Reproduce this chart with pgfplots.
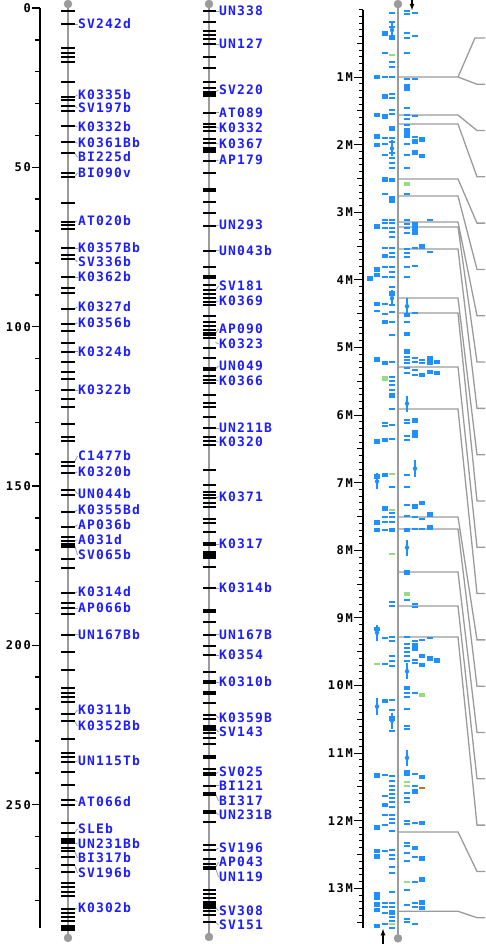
\documentclass[border=0pt]{standalone}
\usepackage{pgfplots}
\pgfplotsset{compat=1.18}
\usepackage{pgfplotstable}
\usepackage{fontspec}
\newfontfamily\monofont{DejaVu Sans Mono}[LetterSpace=9]
\newfontfamily\scalemono{DejaVu Sans Mono}[LetterSpace=14]
\newcommand\labfont{\monofont\bfseries\fontsize{13}{13}\selectfont}
\newcommand\scalefont{\scalemono\bfseries\fontsize{12}{12}\selectfont}
\definecolor{labblue}{RGB}{30,30,250}
\definecolor{featblue}{RGB}{30,144,255}
\definecolor{featgreen}{RGB}{150,220,130}
\definecolor{featorange}{RGB}{205,110,40}
\definecolor{chrgray}{RGB}{155,155,155}

% ---------- map 1 (cM) ----------
\pgfplotstableread{
y
0.94
5.0
12.6
14.1
15.4
16.9
23.2
27.9
28.9
30.7
32.3
37.0
42.0
45.5
51.8
53.0
61.2
67.1
68.1
69.3
75.3
77.5
78.8
84.4
87.9
89.4
94.4
99.2
101.3
105.1
107.9
111.1
114.2
116.4
119.9
122.7
125.2
130.5
134.6
135.9
142.5
143.7
145.9
151.2
152.8
158.1
162.8
166.0
167.2
169.1
172.9
175.7
183.6
186.7
188.3
190.1
196.7
202.1
207.7
213.4
214.9
216.2
217.7
221.5
223.8
229.4
233.8
235.0
236.6
239.7
243.8
248.5
250.1
255.7
258.9
262.0
263.6
264.5
266.4
268.9
271.1
274.5
275.8
277.4
278.6
282.7
284.0
285.2
286.5
288.1
}\mapAthin
\pgfplotstableread{
y
168.5
261.1
289.0
}\mapAthick
\pgfplotstableread{
my ly name
5.0 5.0 SV242d
27.9 27.3 K0335b
30.7 31.4 SV197b
37.0 37.3 K0332b
42.0 42.4 K0361Bb
45.5 46.8 BI225d
53.0 51.8 BI090v
67.1 66.8 AT020b
75.3 75.3 K0357Bb
78.8 79.7 SV336b
84.4 84.4 K0362b
94.4 93.8 K0327d
99.2 98.8 K0356b
107.9 107.9 K0324b
119.9 119.9 K0322b
142.5 140.6 C1477b
145.9 145.6 K0320b
151.2 152.5 UN044b
158.1 157.5 K0355Bd
162.8 162.2 AP036b
167.2 166.9 A031d
168.5 171.6 SV065b
183.6 183.2 K0314d
188.3 188.3 AP066b
196.7 196.7 UN167Bb
221.5 220.3 K0311b
223.8 225.3 K0352Bb
236.6 236.3 UN115Tb
248.5 249.1 AT066d
258.9 257.6 SLEb
262.0 262.3 UN231Bb
264.5 266.7 BI317b
268.9 271.4 SV196b
282.7 282.4 K0302b
}\mapAlab

% ---------- map 2 (cM) ----------
\pgfplotstableread{
y
0.94
4.4
7.2
8.5
9.7
11.3
15.4
18.8
23.2
25.1
26.4
32.9
36.4
37.3
38.6
41.1
42.4
48.0
51.8
60.9
64.3
68.4
76.2
81.3
86.9
88.5
89.7
91.0
92.3
93.2
96.6
98.5
99.8
101.0
103.5
106.7
109.8
115.5
116.7
117.7
121.4
123.9
125.2
128.3
131.8
134.6
135.9
137.1
145.0
149.7
151.9
152.8
153.7
155.3
156.6
160.3
161.6
164.4
175.4
182.0
192.7
196.7
200.2
203.0
208.3
218.1
221.8
223.1
225.3
227.5
229.1
231.0
238.8
244.1
255.4
262.6
264.2
267.0
268.6
276.7
278.0
279.2
283.3
284.6
286.8
}\mapBthin
\pgfplotstableread{
y
27.3
57.1
84.4
102.3
113.3
168.2
171.0
172.3
189.2
211.5
214.9
226.2
235.0
240.4
246.6
252.3
269.8
280.8
282.1
}\mapBthick
\pgfplotstableread{
my ly name
0.94 0.94 UN338
11.3 11.3 UN127
26.4 25.7 SV220
32.9 32.9 AT089
37.3 37.7 K0332
42.4 42.7 K0367
48.0 47.7 AP179
68.4 68.1 UN293
76.2 76.2 UN043b
88.5 87.2 SV181
92.3 91.9 K0369
102.3 100.7 AP090
104.9 105.4 K0323
113.3 112.3 UN049
116.7 117.0 K0366
131.8 131.8 UN211B
135.9 136.2 K0320
153.7 153.4 K0371
168.2 168.2 K0317
182.0 182.0 K0314b
196.7 196.7 UN167B
203.0 203.0 K0354
211.5 211.5 K0310b
221.8 222.8 K0359B
226.2 227.2 SV143
240.4 239.7 SV025
244.1 244.1 BI121
246.6 248.8 BI317
252.3 253.2 UN231B
264.2 263.6 SV196
269.8 268.0 AP043
269.8 272.7 UN119
282.1 283.3 SV308
286.8 287.7 SV151
}\mapBlab

% ---------- physical map (Mb) ----------
\pgfplotstableread{
x y
392 0.047
407 0.017
407 0.067
415 0.047
392 0.18
392 0.254
407 0.353
407 0.417
415 0.392
385 0.648
407 0.639
392 0.772
392 0.846
385 1.003
392 0.994
407 1.033
415 1.033
407 1.117
392 1.25
392 1.314
392 1.487
392 1.546
407 1.462
407 1.56
415 1.575
407 1.62
407 1.709
385 1.906
385 1.99
392 1.906
392 1.955
407 1.891
415 1.881
407 1.99
385 2.152
392 2.128
392 2.2
392 2.266
407 2.152
392 2.35
407 2.35
385 2.734
392 2.769
407 2.734
385 3.114
385 3.163
385 3.237
392 3.114
392 3.163
392 3.227
392 3.287
392 3.36
407 3.114
407 3.173
407 3.237
407 3.311
430 3.114
385 3.533
392 3.533
392 3.597
392 3.656
407 3.548
407 3.607
407 3.666
415 3.523
430 3.582
385 3.804
385 3.952
392 3.804
392 3.878
392 3.962
407 3.804
415 3.794
407 3.962
392 4.1
385 4.36
392 4.37
377 4.46
385 4.5
392 4.47
415 4.49
392 4.62
407 4.62
392 4.82
407 5.14
415 5.15
422 5.18
422 5.23
415 5.21
407 5.18
407 5.23
385 5.21
385 5.24
392 5.22
407 5.31
415 5.34
407 5.37
415 5.41
392 5.43
392 5.49
392 5.56
392 5.63
392 5.91
407 6.07
407 6.12
385 6.11
385 6.16
392 6.14
407 6.31
407 6.37
392 6.36
407 6.89
392 7.06
407 7.06
392 7.45
385 7.50
392 7.51
407 7.33
407 7.49
415 7.51
422 7.53
385 7.58
392 7.58
385 7.70
392 7.68
392 7.71
407 7.68
415 7.68
422 7.68
407 7.71
407 8.74
392 8.76
392 8.82
415 8.79
415 8.84
385 9.30
392 9.28
392 9.34
407 9.28
415 9.34
422 9.32
430 9.30
407 9.38
407 9.44
407 9.50
392 9.57
407 9.57
415 9.62
415 9.67
407 9.64
385 9.68
392 9.64
392 9.71
407 10.11
407 10.17
415 10.11
407 10.35
392 10.21
392 10.36
392 10.67
407 10.60
407 10.65
407 11.33
415 11.31
385 11.33
392 11.34
392 11.41
392 11.48
392 11.54
415 11.48
407 11.59
385 11.64
392 11.61
392 11.67
392 11.73
392 11.79
407 11.67
407 11.72
392 11.91
385 11.91
392 11.98
392 12.04
385 12.06
407 12.00
407 12.05
415 12.04
392 12.15
407 12.33
407 12.38
385 12.45
392 12.44
392 12.50
392 12.56
407 12.48
407 12.59
415 12.54
392 12.68
392 12.77
415 12.90
407 13.03
385 13.21
385 13.28
392 13.06
392 13.22
392 13.28
392 13.42
385 13.37
407 13.25
415 13.22
415 13.27
392 13.48
385 13.53
407 13.45
407 13.50
415 13.53
392 13.58
}\featdash
\pgfplotstableread{
x y
385 0.353
392 0.412
407 1.166
377 0.994
385 1.289
377 1.56
385 1.585
392 1.758
407 1.782
407 1.832
377 1.881
377 2.004
415 1.955
422 1.92
415 2.118
422 2.167
385 2.512
392 2.522
392 2.828
377 3.212
415 3.173
415 3.237
415 3.301
385 3.646
422 3.508
377 3.844
377 3.928
370 3.977
392 4.2
377 4.36
407 4.52
385 4.62
407 4.80
407 5.06
430 5.16
437 5.21
430 5.23
377 5.18
422 5.41
430 5.36
437 5.38
392 5.71
415 6.08
415 6.26
415 6.31
377 6.39
385 6.37
377 6.91
385 6.89
385 7.38
415 7.35
422 7.30
430 7.47
377 7.59
377 7.70
430 7.66
407 8.33
377 9.16
415 9.40
415 9.46
422 9.56
430 9.60
437 9.63
422 9.70
407 10.04
385 10.23
392 10.49
407 11.28
422 11.35
377 11.33
415 11.57
385 11.77
377 12.10
422 12.03
415 12.40
377 12.45
377 12.53
422 12.56
422 12.87
377 13.08
377 13.14
377 13.24
377 13.32
392 13.36
422 13.21
422 13.29
377 13.56
}\featblock
\pgfplotstableread{
x y
392 0.673
392 6.87
392 7.40
392 8.06
377 9.68
407 11.43
407 11.48
407 12.90
392 13.53
}\greendash
\pgfplotstableread{
x y
407 2.581
385 5.46
407 8.65
422 10.14
}\greenblock
\pgfplotstableread{
x y
392 0.303
392 2.054
392 4.27
407 4.39
407 5.83
415 6.79
377 6.98
407 7.96
377 9.22
407 9.79
377 10.31
392 10.52
407 11.07
}\featI

\begin{document}
\begin{tikzpicture}
\path[use as bounding box] (0pt,0pt) rectangle (485pt,-944pt);

% ================= genetic maps =================
\begin{axis}[
  at={(40pt,-8pt)}, anchor=north west, scale only axis,
  width=280pt, height=920pt,
  xmin=40, xmax=320, ymin=0, ymax=288.7, y dir=reverse,
  axis x line=none, axis y line*=left,
  axis line style={black, line width=2pt, -},
  xtick=\empty,
  ytick={0,50,100,150,200,250}, yticklabels={0,50,100,150,200,250},
  minor ytick={10,20,30,40,60,70,80,90,110,120,130,140,160,170,180,190,210,220,230,240,260,270,280},
  tick align=outside, major tick length=8pt, minor tick length=5pt,
  tick style={black, line width=1.5pt},
  yticklabel style={font=\scalefont, inner sep=1pt, text=black},
  clip=false,
]
% chromosome 1
\addplot[chrgray, line width=1.6pt] coordinates {(68,-1.26) (68,291.8)};
\addplot[only marks, mark=*, mark size=4pt, chrgray, mark options={draw=chrgray, fill=chrgray}] coordinates {(68,-1.26) (68,291.8)};
\addplot[black, only marks, mark=-, mark size=6.5pt, line width=1.6pt] table[x expr=68, y=y] {\mapAthin};
\addplot[black, only marks, mark=-, mark size=6.5pt, line width=3.6pt] table[x expr=68, y=y] {\mapAthick};
\addplot[chrgray, line width=0.8pt, mark=none, quiver={u=3, v=\thisrow{ly}-\thisrow{my}}] table[x expr=74.5, y=my] {\mapAlab};
\addplot[only marks, mark=none, nodes near coords, point meta=explicit symbolic,
  nodes near coords style={anchor=west, inner sep=0pt, font=\labfont, text=labblue}]
  table[x expr=78, y=ly, meta=name] {\mapAlab};

% chromosome 2
\addplot[chrgray, line width=1.6pt] coordinates {(209,-1.26) (209,291.5)};
\addplot[only marks, mark=*, mark size=4pt, chrgray, mark options={draw=chrgray, fill=chrgray}] coordinates {(209,-1.26) (209,291.5)};
\addplot[black, only marks, mark=-, mark size=6.5pt, line width=1.6pt] table[x expr=209, y=y] {\mapBthin};
\addplot[black, only marks, mark=-, mark size=6.5pt, line width=3.6pt] table[x expr=209, y=y] {\mapBthick};
\addplot[black, only marks, mark=-, mark size=6.5pt, line width=5.5pt] coordinates {(209,44.6)};
\addplot[chrgray, line width=0.8pt, mark=none, quiver={u=3, v=\thisrow{ly}-\thisrow{my}}] table[x expr=215.5, y=my] {\mapBlab};
\addplot[only marks, mark=none, nodes near coords, point meta=explicit symbolic,
  nodes near coords style={anchor=west, inner sep=0pt, font=\labfont, text=labblue}]
  table[x expr=219, y=ly, meta=name] {\mapBlab};
\end{axis}

% ================= physical map =================
\begin{axis}[
  at={(363pt,-9.5pt)}, anchor=north west, scale only axis,
  width=122pt, height=918pt,
  xmin=363, xmax=485, ymin=0, ymax=13.58, y dir=reverse,
  axis x line=none, axis y line*=left,
  axis line style={black, line width=2pt, -},
  xtick=\empty,
  ytick={1,2,3,4,5,6,7,8,9,10,11,12,13},
  yticklabels={1M,2M,3M,4M,5M,6M,7M,8M,9M,10M,11M,12M,13M},
  minor ytick={0,0.1,...,13.55},
  extra y ticks={0.5,1.5,2.5,3.5,4.5,5.5,6.5,7.5,8.5,9.5,10.5,11.5,12.5,13.5},
  extra y tick labels={},
  extra y tick style={major tick length=6pt},
  tick align=outside, major tick length=9pt, minor tick length=4pt,
  tick style={black, line width=1pt},
  yticklabel style={font=\scalefont, inner sep=1pt, text=black},
  clip=false,
  unbounded coords=jump,
]
% connectors to the neighbouring map
\addplot[chrgray, line width=1.3pt] coordinates {
(398,0.999)(458,0.999)(475,0.42)(485,0.42)(nan,nan)
(398,0.999)(458,0.999)(477,1.105)(485,1.105)(nan,nan)
(398,1.561)(458,1.561)(477,1.79)(485,1.79)(nan,nan)
(398,1.694)(458,1.694)(477,2.475)(485,2.475)(nan,nan)
(398,2.507)(458,2.507)(477,3.16)(485,3.16)(nan,nan)
(398,2.759)(458,2.759)(477,3.845)(485,3.845)(nan,nan)
(398,3.143)(458,3.143)(477,4.53)(485,4.53)(nan,nan)
(398,3.218)(458,3.218)(477,5.215)(485,5.215)(nan,nan)
(398,3.543)(458,3.543)(477,5.90)(485,5.90)(nan,nan)
(398,4.268)(458,4.268)(477,6.585)(485,6.585)(nan,nan)
(398,4.49)(458,4.49)(477,7.27)(485,7.27)(nan,nan)
(398,5.288)(458,5.288)(477,7.955)(485,7.955)(nan,nan)
(398,5.91)(458,5.91)(477,8.64)(485,8.64)(nan,nan)
(398,7.507)(458,7.507)(477,9.325)(485,9.325)(nan,nan)
(398,7.685)(458,7.685)(477,10.01)(485,10.01)(nan,nan)
(398,8.321)(458,8.321)(477,10.695)(485,10.695)(nan,nan)
(398,8.824)(458,8.824)(477,11.38)(485,11.38)(nan,nan)
(398,9.283)(458,9.283)(477,12.065)(485,12.065)(nan,nan)
(398,12.166)(458,12.166)(477,12.75)(485,12.75)(nan,nan)
(398,13.34)(458,13.34)(477,13.435)(485,13.435)
};
% chromosome line
\addplot[chrgray, line width=1.6pt] coordinates {(398,-0.08) (398,13.74)};
\addplot[only marks, mark=*, mark size=4pt, chrgray, mark options={draw=chrgray, fill=chrgray}] coordinates {(398,-0.08) (398,13.74)};
% features
\addplot[featblue, only marks, mark=-, mark size=2.8pt, line width=2pt] table[x=x, y=y] {\featdash};
\addplot[featblue, only marks, mark=-, mark size=3pt, line width=4.4pt] table[x=x, y=y] {\featblock};
\addplot[featgreen, only marks, mark=-, mark size=2.8pt, line width=2pt] table[x=x, y=y] {\greendash};
\addplot[featgreen, only marks, mark=-, mark size=3pt, line width=4.4pt] table[x=x, y=y] {\greenblock};
\addplot[featorange, only marks, mark=-, mark size=2.8pt, line width=2pt] coordinates {(422,11.51)};
\addplot[featblue, only marks, mark=none,
  error bars/.cd, y dir=both, y fixed=0.075, error mark=-,
  error bar style={featblue, line width=1.2pt},
  error mark options={featblue, mark size=3pt, line width=2pt}]
  table[x=x, y=y] {\featI};
% orientation arrows
\addplot[black, line width=1.2pt, -latex] coordinates {(412,-0.14) (412,0.01)};
\addplot[black, line width=1.2pt, -latex] coordinates {(383,13.84) (383,13.6)};
\end{axis}
\end{tikzpicture}
\end{document}
